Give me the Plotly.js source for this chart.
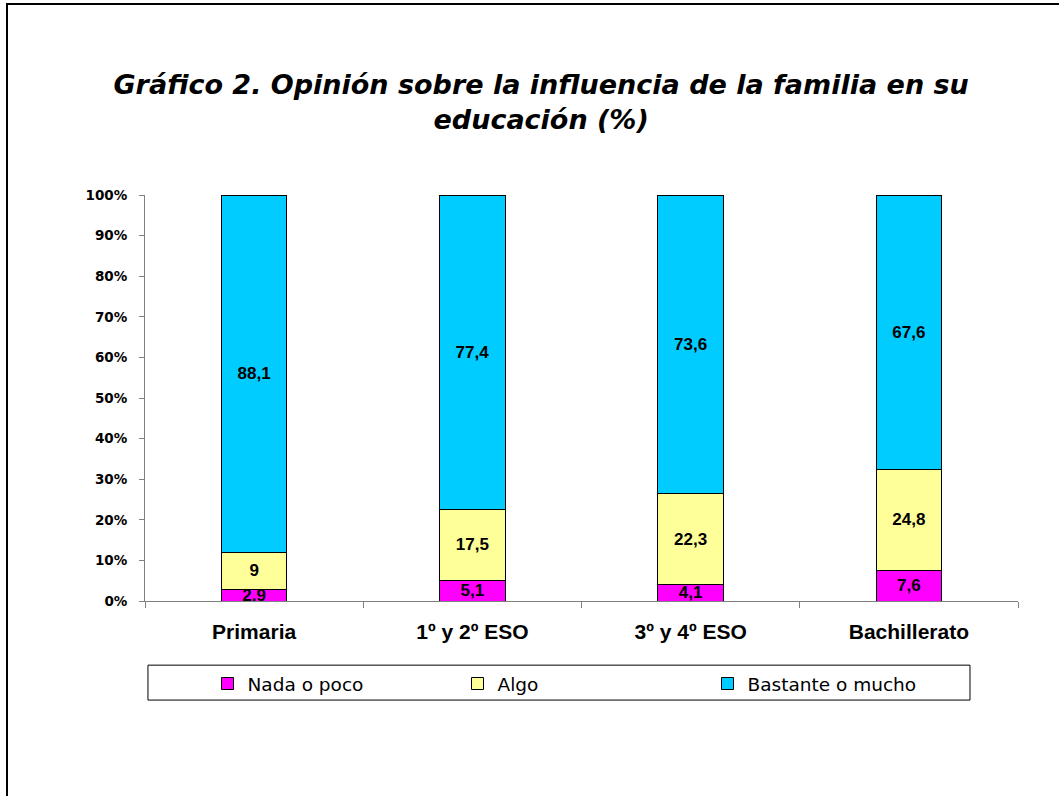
<!DOCTYPE html>
<html><head><meta charset="utf-8">
<script src="https://cdn.plot.ly/plotly-3.0.1.min.js"></script>
<style>
html,body{margin:0;padding:0;background:#fff;}
#frame{position:absolute;left:6px;top:3px;width:1100px;height:850px;border-left:2px solid #000;border-top:2px solid #000;box-sizing:border-box;}
#chart{position:absolute;left:0;top:0;width:1059px;height:796px;}
</style>
</head><body>
<div id="frame"></div>
<div id="chart"></div>
<script>
const categories = ['Primaria', '1º y 2º ESO', '3º y 4º ESO', 'Bachillerato'];
const seriesNames = ['Nada o poco', 'Algo', 'Bastante o mucho'];
const nadaPoco = [2.9, 5.1, 4.1, 7.6];
const algo = [9, 17.5, 22.3, 24.8];
const bastanteMucho = [88.1, 77.4, 73.6, 67.6];
const yTickVals = [0, 10, 20, 30, 40, 50, 60, 70, 80, 90, 100];
const yTickText = ['0%', '10%', '20%', '30%', '40%', '50%', '60%', '70%', '80%', '90%', '100%'];
const colors = ['#FF00FF', '#FFFF99', '#00CCFF'];

const seriesData = [nadaPoco, algo, bastanteMucho];
const traces = seriesData.map((vals, i) => ({
  type: 'bar',
  name: seriesNames[i],
  x: categories,
  y: vals,
  marker: {color: colors[i], line: {color: '#000', width: 1}},
  texttemplate: '%{y:.1~f}',
  textposition: 'inside',
  insidetextanchor: 'middle',
  constraintext: 'none',
  textfont: {family: 'Liberation Sans, Arial', size: 17, color: '#000', weight: 'bold'},
  hoverinfo: 'skip'
}));

const layout = {
  width: 1059, height: 796,
  paper_bgcolor: 'rgba(0,0,0,0)',
  plot_bgcolor: 'rgba(0,0,0,0)',
  separators: ',.',
  barmode: 'stack',
  bargap: 0.7,
  margin: {l: 145, r: 41, t: 195, b: 195},
  font: {family: 'Liberation Sans, Arial', color: '#000'},
  title: {
    text: 'Gráfico 2. Opinión sobre la influencia de la familia en su<br>educación (%)',
    font: {family: 'DejaVu Sans', size: 27, style: 'italic', weight: 'bold', color: '#000'},
    x: 0.511, xanchor: 'center', y: 0.882, yanchor: 'middle', yref: 'container'
  },
  xaxis: {
    type: 'category',
    showline: true, linecolor: '#808080', linewidth: 1,
    ticks: 'outside', tickson: 'boundaries', ticklen: 6, tickcolor: '#808080',
    showgrid: false, zeroline: false,
    tickfont: {family: 'Liberation Sans, Arial', size: 21, weight: 'bold'},
    ticklabelstandoff: 12
  },
  yaxis: {
    range: [0, 100],
    tickvals: yTickVals,
    ticktext: yTickText,
    showline: true, linecolor: '#808080', linewidth: 1,
    ticks: 'outside', ticklen: 5, tickcolor: '#808080',
    showgrid: false, zeroline: false,
    tickfont: {family: 'DejaVu Sans', size: 13.5, weight: 'bold'},
    ticklabelstandoff: 9
  },
  showlegend: true,
  legend: {
    orientation: 'h',
    x: 0.0716, xanchor: 'left',
    y: -0.1576, yanchor: 'top',
    entrywidth: 205,
    traceorder: 'normal',
    borderwidth: 0,
    font: {family: 'DejaVu Sans', size: 18.5, color: '#000'}
  },
  shapes: [{
    type: 'rect', xref: 'paper', yref: 'paper',
    x0: 0.0034, x1: 0.945, y0: -0.158, y1: -0.244,
    line: {color: '#000', width: 1}, fillcolor: 'rgba(0,0,0,0)'
  }]
};

Plotly.newPlot('chart', traces, layout, {displayModeBar: false, staticPlot: true});
</script>
</body></html>
